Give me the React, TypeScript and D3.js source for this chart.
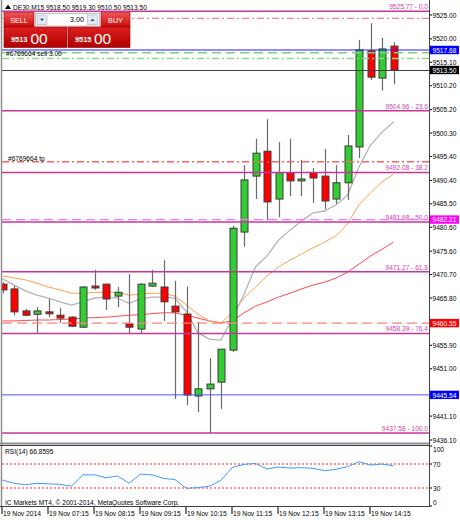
import React from "react";
import * as d3 from "d3";

// ---- candle data (M15 bars, 06:15 .. 14:45) ----
const openP = [9468.7, 9467.7, 9463.1, 9462.4, 9462.9, 9462.2, 9461.8, 9459.7, 9468.3, 9468.7, 9466.2, 9460.4, 9459.3, 9468.3, 9468.1, 9464.1, 9462.45, 9445.3, 9446.8, 9448.2, 9454.9, 9479.6, 9491.3, 9496.5, 9486.5, 9492.0, 9490.3, 9492.0, 9491.3, 9486.5, 9489.9, 9497.4, 9517.5, 9511.8, 9518.5];
const highP = [9469.1, 9468.3, 9463.5, 9463.9, 9465.6, 9463.7, 9462.0, 9468.3, 9471.7, 9468.8, 9468.1, 9470.8, 9468.9, 9471.7, 9473.7, 9469.4, 9468.2, 9460.8, 9453.2, 9455.1, 9480.9, 9493.6, 9499.1, 9503.2, 9498.4, 9499.1, 9494.7, 9493.0, 9497.0, 9493.6, 9499.9, 9519.8, 9523.3, 9520.2, 9519.3];
const lowP = [9466.8, 9462.2, 9462.0, 9458.5, 9461.8, 9460.6, 9459.7, 9459.5, 9467.5, 9463.3, 9463.9, 9458.5, 9458.5, 9468.1, 9461.0, 9444.7, 9443.4, 9441.9, 9437.58, 9442.6, 9454.5, 9476.5, 9486.5, 9482.1, 9482.7, 9487.1, 9487.1, 9485.7, 9484.4, 9485.5, 9486.3, 9495.1, 9511.4, 9509.2, 9510.5];
const closeP = [9467.5, 9462.9, 9462.2, 9463.1, 9462.5, 9461.6, 9459.9, 9468.1, 9467.9, 9465.6, 9467.0, 9459.7, 9468.7, 9468.9, 9465.0, 9462.9, 9445.5, 9446.8, 9447.8, 9455.1, 9480.4, 9490.5, 9496.1, 9485.9, 9492.0, 9490.3, 9490.7, 9490.9, 9486.1, 9489.9, 9497.6, 9517.7, 9512.0, 9517.9, 9513.5];

// ---- moving averages ----
const maGray = [9469.8, 9468.5, 9467.3, 9466.4, 9465.8, 9465.0, 9464.3, 9465.0, 9465.8, 9466.0, 9465.8, 9464.7, 9465.6, 9466.0, 9466.0, 9465.8, 9462.9, 9458.5, 9457.2, 9457.0, 9461.6, 9466.6, 9472.3, 9474.6, 9477.9, 9480.0, 9481.9, 9483.6, 9484.0, 9485.3, 9487.3, 9493.2, 9497.8, 9500.5, 9502.6];
const maOrange = [9470.4, 9470.0, 9469.6, 9468.9, 9468.1, 9467.5, 9466.8, 9466.8, 9467.0, 9467.0, 9467.0, 9466.4, 9466.6, 9466.8, 9466.8, 9466.2, 9464.3, 9462.4, 9461.0, 9460.6, 9462.7, 9465.8, 9468.1, 9470.4, 9472.3, 9473.7, 9475.0, 9476.3, 9477.5, 9478.8, 9481.3, 9485.3, 9487.8, 9490.1, 9491.7];
const maRed = [9461.0, 9461.0, 9461.1, 9461.2, 9461.2, 9461.3, 9461.4, 9461.6, 9461.7, 9461.8, 9462.0, 9462.2, 9462.3, 9462.55, 9462.7, 9462.7, 9462.2, 9461.6, 9461.0, 9460.6, 9461.0, 9462.7, 9464.1, 9465.0, 9466.0, 9466.8, 9467.7, 9468.5, 9469.1, 9470.0, 9471.2, 9472.9, 9474.6, 9476.0, 9477.5];

// ---- RSI(14) ----
const rsi = [43.3, 37.8, 35.5, 37.8, 37, 36, 33, 52, 52, 47, 50, 38, 53, 52, 46, 44, 29.4, 30.6, 33, 43, 64.4, 69.4, 71, 61.7, 65, 63.3, 63.9, 62.8, 58.9, 61.1, 65.6, 73.9, 68.3, 70, 66.86];
const rsiTicks = [100, 70, 30, 0];
const rsiLevels = [70, 30];

// ---- fibonacci ----
const fibPrices = [9525.77, 9504.96, 9492.08, 9481.68, 9471.27, 9458.39, 9437.58];
const fibLevels = ["0.0", "23.6", "38.2", "50.0", "61.8", "76.4", "100.0"];

// ---- axis labels ----
const priceTicks = [9525.0, 9520.0, 9515.1, 9510.2, 9505.2, 9500.3, 9495.4, 9490.4, 9485.5, 9480.6, 9475.6, 9470.7, 9465.8, 9460.9, 9455.9, 9451.0, 9446.0, 9441.1, 9436.1];
const timeLabelIdx = [0, 4, 8, 12, 16, 20, 24, 28, 32];
const timeLabels = ["19 Nov 2014", "19 Nov 07:15", "19 Nov 08:15", "19 Nov 09:15", "19 Nov 10:15", "19 Nov 11:15", "19 Nov 12:15", "19 Nov 13:15", "19 Nov 14:15"];

// ---- horizontal level lines (prices) ----
const slTopPrice = 9524.3;
const tpPrice = 9494.3;
const orderOpenPrice = 9517.1;
const orderDashDotPrice = 9515.9;
const boxPrices = [9517.68, 9513.5, 9482.21, 9460.55, 9445.54];

const FONT = "'Liberation Sans', Arial, sans-serif";

export default function App() {
  const n = openP.length;
  const x = d3.scaleLinear().domain([0, n - 1]).range([2.5, 2.5 + 11.5 * (n - 1)]);
  const y = d3.scaleLinear().domain([9436.1, 9525]).range([440, 15]);
  const yr = d3.scaleLinear().domain([0, 100]).range([506, 446]);
  const line = d3.line<number>().x((_, i) => x(i)).y((d) => y(d));
  const rsiLine = d3.line<number>().x((_, i) => x(i)).y((d) => yr(d));

  const L = 2, R = 429;

  const boxStyles = [
    { fill: "#0000ff", color: "#fff" },
    { fill: "#000000", color: "#fff" },
    { fill: "#ff00ff", color: "#fff" },
    { fill: "#ff0000", color: "#fff" },
    { fill: "#0000ff", color: "#fff" },
  ];

  // tick labels hidden behind a price box (as in the terminal)
  const hidden = (p: number) => boxPrices.some((b) => Math.abs(y(b) - y(p)) < 7);

  return (
    <svg
      width={460}
      height={520}
      style={{ position: "fixed", left: 0, top: 0, display: "block", background: "#fff" }}
      fontFamily={FONT}
    >
      <defs>
        <clipPath id="main">
          <rect x={L} y={0} width={R - L} height={443} />
        </clipPath>
        <clipPath id="sub">
          <rect x={L} y={445} width={R - L} height={61} />
        </clipPath>
        <linearGradient id="btn" x1="0" y1="0" x2="0" y2="1">
          <stop offset="0" stopColor="#f05555" />
          <stop offset="1" stopColor="#cc0a0a" />
        </linearGradient>
        <linearGradient id="box" x1="0" y1="0" x2="0" y2="1">
          <stop offset="0" stopColor="#de2020" />
          <stop offset="1" stopColor="#b00000" />
        </linearGradient>
      </defs>
      <rect x={0} y={0} width={460} height={520} fill="#fff" />

      {/* main chart */}
      <g clipPath="url(#main)">
        <path d={line(maRed) || ""} fill="none" stroke="#ff4a4a" strokeWidth={1} />
        <path d={line(maOrange) || ""} fill="none" stroke="#ffa04a" strokeWidth={1} />
        <path d={line(maGray) || ""} fill="none" stroke="#b4b4b4" strokeWidth={1.3} />

        {openP.map((o, i) => {
          const c = closeP[i];
          const up = c >= o;
          const top = y(Math.max(o, c));
          const bot = y(Math.min(o, c));
          const cx = Math.round(x(i)) + 0.5;
          return (
            <g key={i}>
              <line x1={cx} x2={cx} y1={y(highP[i])} y2={y(lowP[i])} stroke="#6a6a6a" strokeWidth={1.2} />
              <rect
                x={cx - 3.5}
                y={top}
                width={7}
                height={Math.max(1, bot - top)}
                fill={up ? "#32cd32" : "#ff0000"}
                stroke="#3a3a3a"
                strokeWidth={1}
              />
            </g>
          );
        })}

        {/* fibonacci levels */}
        {fibPrices.map((p, i) => (
          <g key={"f" + i}>
            <line x1={L} x2={R} y1={y(p)} y2={y(p)} stroke="#c8359b" strokeWidth={1.5} />
            <text x={R - 1} y={y(p) - 2} fontSize={6.6} fill="#d040b0" textAnchor="end">
              {p.toFixed(2) + " - " + fibLevels[i]}
            </text>
          </g>
        ))}

        {/* order / level lines */}
        <line x1={L} x2={R} y1={y(slTopPrice)} y2={y(slTopPrice)} stroke="#ff8080" strokeWidth={1.3} strokeDasharray="7,3,2,3" />
        <line x1={L} x2={R} y1={y(tpPrice)} y2={y(tpPrice)} stroke="#ff6060" strokeWidth={1.3} strokeDasharray="7,3,2,3" />
        <line x1={L} x2={R} y1={y(orderOpenPrice)} y2={y(orderOpenPrice)} stroke="#80d080" strokeWidth={1.3} strokeDasharray="9,5" />
        <line x1={L} x2={R} y1={y(orderDashDotPrice)} y2={y(orderDashDotPrice)} stroke="#90d890" strokeWidth={1.3} strokeDasharray="7,3,2,3" />
        <line x1={L} x2={R} y1={y(boxPrices[0])} y2={y(boxPrices[0])} stroke="#2020ff" strokeWidth={1} />
        <line x1={L} x2={R} y1={Math.round(y(boxPrices[1])) + 0.5} y2={Math.round(y(boxPrices[1])) + 0.5} stroke="#404040" strokeWidth={1} />
        <line x1={L} x2={R} y1={y(boxPrices[2])} y2={y(boxPrices[2])} stroke="#ff70ff" strokeWidth={1.3} strokeDasharray="9,5" />
        <line x1={L} x2={R} y1={y(boxPrices[3])} y2={y(boxPrices[3])} stroke="#ff8080" strokeWidth={1.3} strokeDasharray="10,5" />
        <line x1={L} x2={R} y1={y(boxPrices[4])} y2={y(boxPrices[4])} stroke="#5050ff" strokeWidth={1} />

        <text x={6} y={y(orderOpenPrice) + 0.5} fontSize={6.6} fill="#000" dominantBaseline="central">#6769664 sell 3.00</text>
        <text x={8} y={y(tpPrice) - 3.5} fontSize={6.6} fill="#000" dominantBaseline="central">#6769664 tp</text>
      </g>

      {/* header */}
      <path d="M5,9 L8,4.5 L11,9 Z" fill="#000" />
      <text x={13} y={7} fontSize={6.6} fill="#000" dominantBaseline="central">
        DE30,M15  9518.50 9519.30 9510.50 9513.50
      </text>

      {/* one click trading panel */}
      <g>
        <rect x={3} y={12} width={128} height={36} fill="#fff" />
        <rect x={4} y={12.5} width={30} height={14.5} fill="url(#btn)" stroke="#a00000" strokeWidth={0.6} />
        <text x={19} y={20} fontSize={7.2} fill="#fff" textAnchor="middle" dominantBaseline="central">SELL</text>
        <rect x={35.5} y={13.5} width={64} height={12.5} fill="#fff" stroke="#b0b0b0" strokeWidth={0.8} />
        <rect x={37} y={15} width={10} height={9.5} fill="#e2e8f2" stroke="#aab4c4" strokeWidth={0.6} />
        <path d="M40.2,18.8 L43.8,18.8 L42,21 Z" fill="#333" />
        <text x={84} y={19.8} fontSize={7.2} fill="#000" textAnchor="end" dominantBaseline="central">3.00</text>
        <rect x={87.5} y={15} width={10} height={9.5} fill="#e2e8f2" stroke="#aab4c4" strokeWidth={0.6} />
        <path d="M90.7,21 L94.3,21 L92.5,18.8 Z" fill="#333" />
        <rect x={101} y={12.5} width={29} height={14.5} fill="url(#btn)" stroke="#a00000" strokeWidth={0.6} />
        <text x={115.5} y={20} fontSize={7.2} fill="#fff" textAnchor="middle" dominantBaseline="central">BUY</text>
        <rect x={4} y={27} width={63} height={20.5} fill="url(#box)" stroke="#900000" strokeWidth={0.6} />
        <text x={11} y={42} fontSize={7.4} fontWeight="bold" fill="#fff">9513</text>
        <text x={30.5} y={43.5} fontSize={15.5} fill="#fff">00</text>
        <rect x={68} y={27} width={62} height={20.5} fill="url(#box)" stroke="#900000" strokeWidth={0.6} />
        <text x={75} y={42} fontSize={7.4} fontWeight="bold" fill="#fff">9515</text>
        <text x={94} y={43.5} fontSize={15.5} fill="#fff">00</text>
      </g>

      {/* right price axis */}
      {priceTicks.map((p, i) => (
        <g key={"t" + i}>
          <line x1={R} x2={R + 3} y1={y(p)} y2={y(p)} stroke="#000" strokeWidth={1} />
          {!hidden(p) && (
            <text x={R + 3.5} y={y(p)} fontSize={6.6} fill="#000" dominantBaseline="central">
              {p.toFixed(2)}
            </text>
          )}
        </g>
      ))}
      {boxPrices.map((p, i) => (
        <g key={"b" + i}>
          <rect x={R + 1} y={y(p) - 4.2} width={29} height={8.4} fill={boxStyles[i].fill} />
          <text x={R + 3.5} y={y(p) + 0.2} fontSize={6.6} fill={boxStyles[i].color} dominantBaseline="central">
            {p.toFixed(2)}
          </text>
        </g>
      ))}

      {/* RSI panel */}
      <g clipPath="url(#sub)">
        {rsiLevels.map((v) => (
          <line key={v} x1={L} x2={R} y1={yr(v)} y2={yr(v)} stroke="#ff2020" strokeWidth={1} strokeDasharray="2,2" />
        ))}
        <path d={rsiLine(rsi) || ""} fill="none" stroke="#3c9cff" strokeWidth={1} />
      </g>
      <text x={5} y={451} fontSize={6.6} fill="#000" dominantBaseline="central">RSI(14) 66.8595</text>
      <text x={5} y={502} fontSize={6.6} fill="#000" dominantBaseline="central">
        IC Markets MT4, © 2001-2014, MetaQuotes Software Corp.
      </text>
      {rsiTicks.map((v) => {
        const ty = v === 100 ? yr(v) + 3.3 : v === 0 ? yr(v) - 4 : yr(v);
        return (
          <g key={"r" + v}>
            <line x1={R} x2={R + 3} y1={yr(v)} y2={yr(v)} stroke="#000" strokeWidth={1} />
            <text x={R + 4} y={ty} fontSize={6.6} fill="#000" dominantBaseline="central">{v}</text>
          </g>
        );
      })}

      {/* frames */}
      <line x1={1.5} x2={1.5} y1={0} y2={507} stroke="#909090" strokeWidth={1.5} />
      <line x1={0} x2={R} y1={443.5} y2={443.5} stroke="#909090" strokeWidth={2} />
      <line x1={0} x2={R} y1={445.5} y2={445.5} stroke="#404040" strokeWidth={1} />
      <line x1={0} x2={R + 0.5} y1={506.5} y2={506.5} stroke="#404040" strokeWidth={1} />
      <line x1={R + 0.5} x2={R + 0.5} y1={0} y2={507} stroke="#404040" strokeWidth={1} />

      {/* time axis */}
      {timeLabelIdx.map((idx, k) => (
        <g key={"x" + k}>
          <line x1={x(idx) - 0.5} x2={x(idx) - 0.5} y1={507} y2={514} stroke="#000" strokeWidth={1} />
          <text x={x(idx) + 0.5} y={513} fontSize={6.7} fill="#000" dominantBaseline="central">
            {timeLabels[k]}
          </text>
        </g>
      ))}
    </svg>
  );
}
